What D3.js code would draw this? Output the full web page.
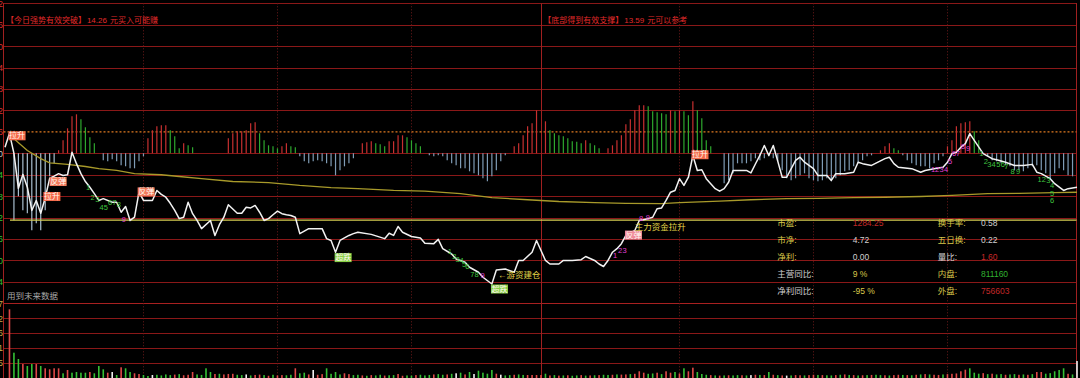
<!DOCTYPE html>
<html>
<head>
<meta charset="utf-8">
<script src="https://cdn.jsdelivr.net/npm/d3@7"></script>
<style>
  html, body { margin: 0; padding: 0; background: #000; }
  svg { display: block; }
  text { font-family: "Liberation Sans", "Noto Sans CJK SC", sans-serif; }
</style>
</head>
<body>
<svg id="chart" width="1080" height="378"></svg>
<script>
// ---- data ----
// white price line: minute index -> price
const priceMin = [0,1,2,3,4,5,6,7,8,9,10,11,12,13,14,15,16,17,18,19,20,21,22,24,25,26,27,28,29,30,31,33,34,35,36,37,38,39,40,41,42,43,44,46,47,48,49,50,51,52,53,54,55,56,57,58,59,60,61,62,63,64,65,66,67,68,71,72,73,74,75,76,77,78,79,82,85,86,87,88,89,91,93,94,96,97,98,100,101,103,104,106,107,109,110,112,114,115,116,118,119,120,121,122,124,125,127,129,130,132,133,134,135,136,137,138,139,141,142,144,145,146,147,148,149,150,151,152,153,154,155,156,157,158,159,160,161,162,163,166,167,168,169,170,171,172,173,174,175,177,178,179,180,181,182,184,185,186,188,190,191,192,194,197,198,199,200,203,205,206,208,210,211,212,213,214,215,216,217,219,221,222,224,226,228,230,231,232,234,235,237,238,240];
const priceVal = [14.117,14.156,14.100,14.002,14.041,14.005,13.940,13.968,13.932,13.975,14.030,14.036,14.043,14.038,14.040,14.103,14.071,14.043,14.021,14.005,13.987,13.968,13.973,13.963,13.963,13.935,13.951,13.912,13.921,13.991,13.968,13.968,13.996,13.985,13.977,13.960,13.940,13.917,13.921,13.963,13.931,13.912,13.889,13.912,13.870,13.900,13.921,13.956,13.944,13.932,13.932,13.949,13.947,13.954,13.935,13.912,13.917,13.928,13.938,13.931,13.928,13.926,13.921,13.875,13.882,13.889,13.889,13.861,13.856,13.823,13.856,13.863,13.870,13.875,13.879,13.873,13.861,13.876,13.870,13.895,13.879,13.867,13.863,13.848,13.847,13.859,13.833,13.818,13.804,13.795,13.781,13.767,13.753,13.734,13.773,13.776,13.767,13.800,13.800,13.823,13.856,13.828,13.800,13.790,13.790,13.800,13.800,13.802,13.811,13.800,13.790,13.783,13.800,13.823,13.833,13.847,13.870,13.884,13.912,13.917,13.921,13.945,13.947,13.968,13.991,13.996,14.029,14.010,14.033,14.094,14.052,14.054,14.029,14.015,14.001,13.994,14.001,14.019,14.052,14.052,14.045,14.070,14.094,14.122,14.094,14.122,14.078,14.033,14.033,14.080,14.089,14.075,14.066,14.057,14.038,14.038,14.024,14.043,14.043,14.047,14.075,14.071,14.066,14.085,14.089,14.071,14.061,14.057,14.047,14.052,14.057,14.061,14.075,14.099,14.103,14.117,14.127,14.155,14.136,14.099,14.085,14.082,14.075,14.066,14.066,14.069,14.047,14.043,14.029,14.015,13.996,14.001,14.005];

// average price line
const avgMin = [1,2,5,8,10,14,18,21,25,29,35,39,44,51,59,66,73,79,87,94,102,109,117,124,132,139,147,151,160,167,175,182,190,197,205,212,220,227,235,240];
const avgVal = [14.150,14.141,14.108,14.085,14.073,14.069,14.063,14.057,14.052,14.043,14.040,14.035,14.029,14.021,14.018,14.010,14.004,14.001,13.996,13.994,13.987,13.976,13.970,13.965,13.962,13.960,13.959,13.962,13.966,13.970,13.973,13.974,13.976,13.977,13.979,13.982,13.987,13.988,13.990,13.991];

// histogram around the 14.10 line, one value per minute 0..239
const histVal = [
  0, 0, -6.7, -4.3, -5.7, -6.0, -7.7, -7.0, -7.7, -5.7,
  -2.3, -1.0, 0.3, 1.3, 2.5, 3.7, 3.9, 3.4, 2.6, 1.6,
  1.0, 0, -0.7, -0.8, -0.6, -0.8, -1.2, -1.3, -1.5, -1.5,
  -0.8, -0.3, 1.5, 2.3, 2.7, 2.8, 2.8, 2.3, 1.7, 0.5,
  1.0, 0.8, 0.6, 0, 0, 0, 0, 0, 0, 0,
  1.5, 2.0, 2.2, 2.2, 2.3, 3.0, 3.1, 2.0, 1.3, 0.8,
  0.7, 0.5, 0.7, 1.0, 0.7, 0.6, -0.3, -0.8, -1.0, -0.8,
  -0.7, -0.8, -1.0, -1.3, -2.2, -1.7, -1.3, -1.0, -0.5, 0,
  1.0, 1.1, 1.2, 1.0, 0.9, 0.7, 1.2, 1.2, 1.8, 1.8,
  1.6, 1.3, 1.0, 0.7, 0, -0.2, -0.3, -0.2, -0.3, -0.7,
  -1.0, -1.2, -1.5, -1.5, -1.8, -2.0, -2.2, -2.5, -2.8, -2.3,
  -1.7, -0.8, -0.2, 0, 0.7, 1.0, 1.8, 2.7, 3.0, 4.3,
  0, 3.2, 2.3, 2.0, 1.8, 1.7, 1.5, 1.2, 1.15, 1.0,
  1.3, 1.0, 0.8, 0.5, 0, 0.5, 0.8, 1.3, 1.8, 2.9,
  3.4, 4.3, 4.8, 4.8, 4.7, 4.2, 4.1, 4.0, 3.9, 4.3,
  4.2, 4.3, 4.2, 3.8, 5.2, 4.3, 3.5, 1.3, 0.7, 0,
  0, -3.0, -2.7, -2.0, -1.0, -1.0, -1.0, -0.8, -0.5, -0.7,
  -0.5, -0.3, -0.5, -0.8, -1.7, -2.5, -2.7, -2.5, -2.2, -2.0,
  -2.5, -2.7, -2.8, -2.7, -2.5, -2.8, -2.5, -2.2, -1.8, -1.7,
  -1.3, -1.0, -0.7, -0.3, -0.2, 0, 0.3, 0.7, 1.0, 0.5,
  0.3, -0.2, -0.7, -1.0, -1.2, -1.3, -1.3, -1.5, -1.0, -0.7,
  -0.3, 0.7, 1.3, 2.7, 3.0, 3.1, 3.2, 2.2, 1.3, 0,
  -0.3, -0.7, -0.8, -1.0, -1.2, -1.3, -1.7, -1.7, -1.8, -1.5,
  -1.3, -1.2, -1.7, -2.0, -2.5, -2.0, -1.5, -1.7, -2.2, -2.3
];

// volume per minute 1..240, and tick direction (u = up, d = down, e = unchanged)
const volVal = [
  21030, 7690, 5750, 4210, 3600, 4210, 4200, 3600, 2890, 2580,
  2890, 2880, 1350, 2370, 1540, 1750, 1540, 1530, 1750, 1350,
  3600, 2580, 1540, 1750, 830, 3200, 2890, 1750, 1350, 1140,
  830, 520, 830, 900, 700, 1000, 800, 950, 1100, 750,
  900, 1750, 1000, 850, 2890, 1750, 1140, 1200, 1000, 1150,
  1200, 900, 800, 1000, 700, 850, 950, 800, 600, 900,
  700, 800, 750, 900, 2890, 1350, 1540, 1000, 2370, 900,
  1100, 2890, 1200, 1750, 1000, 1350, 1100, 800, 900, 700,
  600, 800, 700, 900, 650, 750, 800, 1140, 600, 700,
  650, 800, 900, 700, 850, 1000, 1100, 900, 1000, 1200,
  1350, 1540, 1000, 1750, 1140, 2150, 1540, 1230, 2370, 1230,
  920, 700, 800, 900, 1000, 850, 830, 830, 830, 830,
  1230, 700, 800, 650, 700, 750, 600, 700, 800, 650,
  700, 750, 800, 900, 850, 900, 1000, 950, 1000, 1100,
  1200, 1970, 1540, 1200, 1300, 1540, 1100, 1970, 1540, 1750,
  1300, 2890, 1970, 3080, 1750, 1140, 900, 800, 700, 650,
  700, 750, 700, 800, 750, 700, 800, 900, 850, 800,
  1750, 900, 800, 700, 650, 700, 800, 750, 700, 800,
  900, 850, 800, 750, 700, 800, 900, 1000, 850, 800,
  700, 750, 800, 850, 900, 800, 750, 700, 800, 900,
  850, 800, 750, 900, 1000, 1100, 1000, 900, 850, 1000,
  1100, 1200, 1300, 1970, 2460, 2890, 1540, 1230, 1400, 1100,
  1230, 1000, 1100, 900, 1000, 1100, 900, 1000, 900, 1100,
  1750, 1750, 1230, 1400, 1970, 2370, 2890, 1200, 1000, 5130
];
const volDir = [
  "uddudduduu", "uududdddud", "dduedudduu", "ddeddddudu",
  "uudddduduu", "uddeduudud", "uudduddueu", "udddduuddu",
  "duddudduud", "duddduddud", "edudeddddu", "eddudduuuu",
  "dudududdud", "ududduduud", "uuudduduud", "uduudddudu",
  "duddudeudu", "dudueduudu", "ududdududu", "dududduduu",
  "dudududuud", "uuuuudddud", "udduddudud", "uudddddude"
].join("");

const preClose = 14.16;
const supportLevel = 13.913;
const histBase = 14.10;
const priceTicks = d3.range(15).map(i => +(13.68 + i * 0.06).toFixed(2));
const volTicks = [4575, 9151, 13726, 18302, 22877];
const timeGrid = [31, 61, 91, 120, 151, 181, 211];

// signal badges: minute, price, text, kind
const badges = [
  [2.7, 14.149, "拉升", "up"],
  [10.5, 13.979, "拉升", "up"],
  [11.9, 14.021, "反弹", "rebound"],
  [31.6, 13.992, "反弹", "rebound"],
  [75.7, 13.808, "超跌", "oversold"],
  [110.7, 13.720, "超跌", "oversold"],
  [140.7, 13.871, "反弹", "pink"],
  [155.6, 14.096, "拉升", "up"]
];

// counting digits along the line: minute, price, digit, kind (g = green, m = magenta)
const countMarks = [
  [18.6, 14.004, "1", "g"], [19.6, 13.975, "2", "g"], [20.7, 13.970, "3", "g"], [21.6, 13.947, "4", "g"],
  [22.6, 13.947, "5", "g"], [23.5, 13.960, "6", "g"], [24.5, 13.960, "7", "g"], [25.5, 13.956, "8", "g"],
  [26.6, 13.914, "9", "m"],
  [99.6, 13.823, "1", "g"], [100.6, 13.809, "2", "g"], [101.3, 13.802, "3", "g"], [102.2, 13.798, "4", "g"],
  [102.8, 13.786, "5", "g"], [103.5, 13.781, "6", "g"], [104.6, 13.760, "7", "g"], [105.6, 13.760, "8", "g"],
  [106.9, 13.755, "9", "m"],
  [136.6, 13.813, "1", "m"], [137.7, 13.825, "2", "m"], [138.7, 13.827, "3", "m"],
  [142.4, 13.917, "8", "m"], [143.9, 13.920, "9", "m"],
  [207.8, 14.052, "1", "m"], [208.7, 14.052, "2", "m"], [209.7, 14.052, "3", "m"], [210.7, 14.052, "4", "m"],
  [211.6, 14.075, "5", "m"], [212.5, 14.099, "6", "m"], [213.4, 14.099, "7", "m"], [214.5, 14.117, "8", "m"],
  [215.6, 14.113, "9", "m"],
  [218.6, 14.099, "1", "g"], [219.6, 14.076, "2", "g"], [220.4, 14.067, "3", "g"], [221.3, 14.067, "4", "g"],
  [222.4, 14.067, "5", "g"], [223.4, 14.067, "6", "g"], [224.2, 14.061, "7", "g"], [225.6, 14.047, "8", "g"],
  [226.8, 14.047, "9", "g"],
  [231.6, 14.025, "1", "g"], [232.6, 14.025, "2", "g"], [233.6, 14.022, "3", "g"], [234.4, 14.008, "4", "g"],
  [234.4, 13.987, "5", "g"], [234.4, 13.966, "6", "g"]
];

// yellow notes: minute, price, text
const notes = [
  [110.4, 13.756, "←游资建仓"],
  [141.0, 13.892, "主力资金拉升"]
];

const headPrefix = ["【今日强势有效突破】", "【底部得到有效支撑】"];
const headPrice = ["14.26", "13.59"];
const headSuffix = ["元买入可能赚", "元可以参考"];
const headMin = [0.2, 120.5];

const infoLeftLabels = ["市盈:", "市净:", "净利:", "主营同比:", "净利同比:"];
const infoLeftValues = ["1284.25", "4.72", "0.00", "9 %", "-95 %"];
const infoRightLabels = ["换手率:", "五日换:", "量比:", "内盘:", "外盘:"];
const infoRightValues = ["0.58", "0.22", "1.60", "811160", "756603"];

// ---- drawing ----
const svg = d3.select("#chart");
const W = 1080, H = 378;

const x = d3.scaleLinear().domain([0, 240]).range([5, 1077]);
const y = d3.scaleLinear().domain([13.68, 14.52]).range([303.3, 3.3]);
const hy = d3.scaleLinear().domain([0, 1]).range([y(histBase), y(histBase) - 10]);
const vy = d3.scaleLinear().domain([0, 22877]).range([377.7, 303.3]);

const gridRed = "#8a1818";

svg.append("rect").attr("width", W).attr("height", H).attr("fill", "#000");

// horizontal price grid
svg.append("g").selectAll("line")
  .data(priceTicks.filter(t => t !== preClose))
  .enter().append("line")
  .attr("x1", 3.5).attr("x2", 1076.5)
  .attr("y1", d => Math.round(y(d)) + 0.5).attr("y2", d => Math.round(y(d)) + 0.5)
  .attr("stroke", d => d === 13.68 ? "#a82020" : gridRed)
  .attr("stroke-width", 1);

// volume grid
svg.append("g").selectAll("line")
  .data(volTicks.slice(0, 4))
  .enter().append("line")
  .attr("x1", 3.5).attr("x2", 1076.5)
  .attr("y1", d => Math.round(vy(d)) + 0.5).attr("y2", d => Math.round(vy(d)) + 0.5)
  .attr("stroke", gridRed);

// vertical time grid
svg.append("g").selectAll("line")
  .data(timeGrid)
  .enter().append("line")
  .attr("x1", d => Math.round(x(d)) + 0.5).attr("x2", d => Math.round(x(d)) + 0.5)
  .attr("y1", 3.3).attr("y2", H)
  .attr("stroke", d => d === 120 ? "#a02020" : "#6e1a1a")
  .attr("stroke-dasharray", d => d === 120 ? null : "1,2");

// frame
svg.append("line").attr("x1", 3.5).attr("x2", 3.5).attr("y1", 3).attr("y2", H).attr("stroke", "#a02020");
svg.append("line").attr("x1", 1076.5).attr("x2", 1076.5).attr("y1", 3).attr("y2", H).attr("stroke", "#a02020");

// previous close dotted line
svg.append("line")
  .attr("x1", 3.5).attr("x2", 1076.5)
  .attr("y1", y(preClose)).attr("y2", y(preClose))
  .attr("stroke", "#e07a20").attr("stroke-width", 1.3)
  .attr("stroke-dasharray", "2,2");

// histogram
const histBars = histVal.map((v, i) => {
  const prev = i > 0 ? histVal[i - 1] : 0;
  let kind = "neg";
  if (v > 0) kind = (prev > 0 && v < prev) ? "fall" : "rise";
  return { m: i, v, kind };
}).filter(d => d.v !== 0);

svg.append("g").selectAll("line")
  .data(histBars)
  .enter().append("line")
  .attr("x1", d => x(d.m)).attr("x2", d => x(d.m))
  .attr("y1", hy(0)).attr("y2", d => hy(d.v))
  .attr("stroke", d => d.kind === "rise" ? "#c83030" : d.kind === "fall" ? "#2ea82e" : (d.m < 12 ? "#a9bfd0" : "#7f9cb6"))
  .attr("stroke-width", 1.2);

// support line
svg.append("line")
  .attr("x1", 10).attr("x2", 1076.5)
  .attr("y1", y(supportLevel)).attr("y2", y(supportLevel))
  .attr("stroke", "#d8cf52").attr("stroke-width", 1.3);

// average line
const avgData = avgMin.map((m, i) => [m, avgVal[i]]);
svg.append("path")
  .datum(avgData)
  .attr("fill", "none")
  .attr("stroke", "#a89a2a").attr("stroke-width", 1.3)
  .attr("d", d3.line().x(d => x(d[0])).y(d => y(d[1])));

// price line
const priceData = priceMin.map((m, i) => [m, priceVal[i]]);
svg.append("path")
  .datum(priceData)
  .attr("fill", "none")
  .attr("stroke", "#f2f2f2").attr("stroke-width", 1.5)
  .attr("stroke-linejoin", "round")
  .attr("d", d3.line().x(d => x(d[0])).y(d => y(d[1])));

// counting digits
const markColor = { g: "#3fc43f", m: "#e040d8" };
svg.append("g").selectAll("text")
  .data(countMarks)
  .enter().append("text")
  .attr("x", d => x(d[0])).attr("y", d => y(d[1]))
  .attr("text-anchor", "middle").attr("dominant-baseline", "middle")
  .attr("font-size", 7.5).attr("fill", d => markColor[d[3]])
  .text(d => d[2]);

// badges
const badgeFill = { up: "#f46a4a", rebound: "#f27a5c", oversold: "#86cf44", pink: "#f08a9a" };
const bg = svg.append("g").selectAll("g")
  .data(badges)
  .enter().append("g")
  .attr("transform", d => `translate(${x(d[0])},${y(d[1])})`);
bg.append("rect")
  .attr("x", -8.5).attr("y", -4.5).attr("width", 17).attr("height", 9)
  .attr("fill", d => badgeFill[d[3]]);
bg.append("text")
  .attr("text-anchor", "middle").attr("dominant-baseline", "central")
  .attr("font-size", 8).attr("fill", "#fff8f0")
  .text(d => d[2]);

// yellow notes
svg.append("g").selectAll("text")
  .data(notes)
  .enter().append("text")
  .attr("x", d => x(d[0])).attr("y", d => y(d[1]))
  .attr("dominant-baseline", "middle")
  .attr("font-size", 8.5).attr("fill", "#e6d84a")
  .text(d => d[2]);

// volume bars
const volBars = volVal.map((v, i) => ({ m: i + 1, v, dir: volDir[i] }));
svg.append("g").selectAll("rect")
  .data(volBars)
  .enter().append("rect")
  .attr("x", d => x(d.m) - 0.8).attr("width", 1.6)
  .attr("y", d => vy(d.v)).attr("height", d => vy(0) - vy(d.v) + 1)
  .attr("fill", d => d.dir === "u" ? "#e04848" : d.dir === "d" ? "#35c035" : "#f0f0f0");

// left axis labels (clipped at the page edge, as in the original terminal)
svg.append("g").selectAll("text")
  .data(priceTicks.filter(t => t !== 13.68))
  .enter().append("text")
  .attr("x", 3).attr("y", d => y(d) + 1)
  .attr("text-anchor", "end").attr("dominant-baseline", "middle")
  .attr("font-size", 9)
  .attr("fill", d => d >= preClose ? "#d83030" : d > 14.09 ? "#c8c8c8" : "#30c030")
  .text(d => d.toFixed(2));
svg.append("g").selectAll("text")
  .data(volTicks)
  .enter().append("text")
  .attr("x", 3).attr("y", d => vy(d) + 1)
  .attr("text-anchor", "end").attr("dominant-baseline", "middle")
  .attr("font-size", 9).attr("fill", "#c8a848")
  .text(d => d);

// headline texts
const heads = svg.append("g").selectAll("text")
  .data(headPrefix.map((p, i) => i))
  .enter().append("text")
  .attr("x", i => x(headMin[i])).attr("y", 20.7)
  .attr("dominant-baseline", "middle")
  .attr("font-size", 8).attr("fill", "#e02a2a");
heads.append("tspan").text(i => headPrefix[i]);
heads.append("tspan").attr("dx", 1).text(i => headPrice[i]);
heads.append("tspan").attr("dx", 3).text(i => headSuffix[i]);

svg.append("text")
  .attr("x", 7).attr("y", 296.7)
  .attr("dominant-baseline", "middle")
  .attr("font-size", 8.5).attr("fill", "#a8a8a8")
  .text("用到未来数据");

// info table
const rowY = d3.scalePoint().domain(d3.range(5)).range([224, 291.7]);
const leftLabelColor = ["#d8c84a", "#d8c84a", "#d8c84a", "#d0d0d0", "#d0d0d0"];
const leftValueColor = ["#c02828", "#d0d0d0", "#d0d0d0", "#d8c84a", "#d8c84a"];
const rightLabelColor = ["#d8c84a", "#d8c84a", "#d0d0d0", "#d8c84a", "#d8c84a"];
const rightValueColor = ["#d0d0d0", "#d0d0d0", "#c82828", "#30b030", "#c02828"];
const cols = [
  [777.3, infoLeftLabels, leftLabelColor],
  [852.7, infoLeftValues, leftValueColor],
  [937.7, infoRightLabels, rightLabelColor],
  [981, infoRightValues, rightValueColor]
];
cols.forEach(([cx, texts, colors]) => {
  svg.append("g").selectAll("text")
    .data(texts)
    .enter().append("text")
    .attr("x", cx).attr("y", (d, i) => rowY(i))
    .attr("dominant-baseline", "middle")
    .attr("font-size", 8.5)
    .attr("fill", (d, i) => colors[i])
    .text(d => d);
});
</script>
</body>
</html>
